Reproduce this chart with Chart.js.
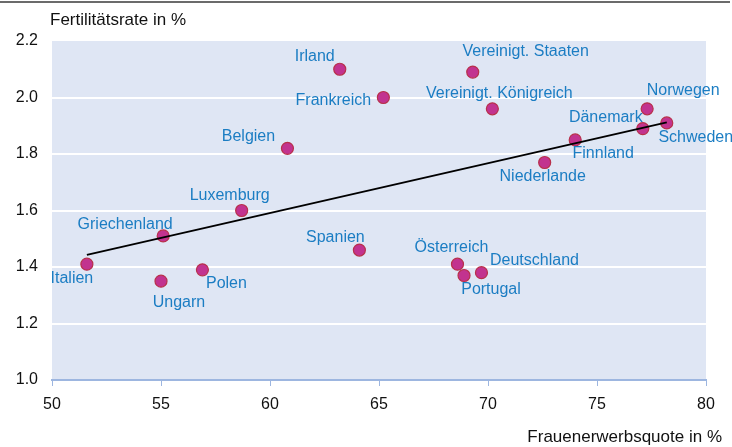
<!DOCTYPE html>
<html>
<head>
<meta charset="utf-8">
<script src="https://cdn.jsdelivr.net/npm/chart.js@4/dist/chart.umd.min.js"></script>
<style>
  html, body { margin: 0; padding: 0; background: #ffffff; }
  #wrap { position: relative; width: 732px; height: 447px; }
</style>
</head>
<body>
<div id="wrap"><canvas id="c" width="732" height="447"></canvas></div>
<script>
// ---- data ----
const countries = ["Irland","Vereinigt. Staaten","Frankreich","Vereinigt. Königreich","Norwegen","Schweden","Dänemark","Finnland","Niederlande","Belgien","Luxemburg","Griechenland","Italien","Ungarn","Polen","Spanien","Österreich","Deutschland","Portugal"];
const erwerbsquote = [63.2, 69.3, 65.2, 70.2, 77.3, 78.2, 77.1, 74.0, 72.6, 60.8, 58.7, 55.1, 51.6, 55.0, 56.9, 64.1, 68.6, 69.7, 68.9];
const fertilitaet  = [2.10, 2.09, 2.00, 1.96, 1.96, 1.91, 1.89, 1.85, 1.77, 1.82, 1.60, 1.51, 1.41, 1.35, 1.39, 1.46, 1.41, 1.38, 1.37];
const trendX = [51.6, 78.2];
const trendY = [1.443, 1.912];
const xTicks = [50, 55, 60, 65, 70, 75, 80];
const yTicks = [1.0, 1.2, 1.4, 1.6, 1.8, 2.0, 2.2];

// label placement (pixel offsets of label centre from point, layout only)
const labelOffsets = {
  "Irland": [-25, -13], "Vereinigt. Staaten": [53, -20], "Frankreich": [-50, 3],
  "Vereinigt. Königreich": [7, -15], "Norwegen": [36, -18], "Schweden": [29, 15],
  "Dänemark": [-37, -11], "Finnland": [28, 14], "Niederlande": [-2, 14],
  "Belgien": [-39, -12], "Luxemburg": [-12, -15], "Griechenland": [-38, -11],
  "Italien": [-15, 14], "Ungarn": [18, 21], "Polen": [24, 14], "Spanien": [-24, -12],
  "Österreich": [-6, -17], "Deutschland": [53, -12], "Portugal": [27, 14]
};

const FONT = "'Liberation Sans', Arial, sans-serif";

const points = erwerbsquote.map((x, i) => ({x: x, y: fertilitaet[i]}));
const trend = trendX.map((x, i) => ({x: x, y: trendY[i]}));

const decor = {
  id: 'decor',
  beforeDraw(chart) {
    const {ctx, chartArea: a} = chart;
    ctx.save();
    ctx.fillStyle = '#dfe6f4';
    ctx.fillRect(a.left, a.top, a.right - a.left, a.bottom - a.top);
    ctx.restore();
  },
  afterDraw(chart) {
    const {ctx} = chart;
    ctx.save();
    ctx.strokeStyle = '#6b6b6b';
    ctx.lineWidth = 2;
    ctx.beginPath(); ctx.moveTo(0, 2); ctx.lineTo(730, 2); ctx.stroke();
    ctx.fillStyle = '#111';
    ctx.font = '17px ' + FONT;
    ctx.textBaseline = 'middle';
    ctx.textAlign = 'left';
    ctx.fillText('Fertilitätsrate in %', 50, 20);
    ctx.textAlign = 'right';
    ctx.fillText('Frauenerwerbsquote in %', 722, 437);
    ctx.restore();
  },
  afterDatasetsDraw(chart) {
    const {ctx} = chart;
    const meta = chart.getDatasetMeta(1);
    ctx.save();
    ctx.fillStyle = '#1b7dc3';
    ctx.font = '16px ' + FONT;
    ctx.textAlign = 'center';
    ctx.textBaseline = 'middle';
    meta.data.forEach((el, i) => {
      const name = countries[i];
      const off = labelOffsets[name] || [0, -14];
      ctx.fillText(name, el.x + off[0], el.y + off[1]);
    });
    ctx.restore();
  }
};

new Chart(document.getElementById('c'), {
  type: 'scatter',
  data: {
    datasets: [
      { data: trend, showLine: true, borderColor: '#000', borderWidth: 2, pointRadius: 0, fill: false, order: 0 },
      { data: points, backgroundColor: '#c2338f', borderColor: '#b8304a', borderWidth: 1.2, pointRadius: 6, pointHoverRadius: 6, order: 1 }
    ]
  },
  options: {
    responsive: false,
    animation: false,
    events: [],
    layout: { padding: { top: 41, left: 0, right: 26, bottom: 0 } },
    plugins: { legend: { display: false }, tooltip: { enabled: false }, title: { display: false } },
    scales: {
      x: {
        type: 'linear', min: 50, max: 80,
        afterBuildTicks(s) { s.ticks = xTicks.map(v => ({value: v})); },
        afterFit(s) { s.height = 67; },
        grid: { drawOnChartArea: false, drawTicks: true, tickLength: 6, color: '#9db6e0', lineWidth: 1 },
        border: { display: true, color: '#9db6e0', width: 2 },
        ticks: { color: '#111', font: { size: 16, family: FONT }, padding: 9, maxRotation: 0, autoSkip: false }
      },
      y: {
        type: 'linear', min: 1.0, max: 2.2,
        afterBuildTicks(s) { s.ticks = yTicks.map(v => ({value: v})); },
        afterFit(s) { s.width = 52; },
        grid: {
          drawTicks: false, lineWidth: 2,
          color: (c) => (c.tick && (Math.abs(c.tick.value - 1.0) < 1e-6 || Math.abs(c.tick.value - 2.2) < 1e-6)) ? 'rgba(0,0,0,0)' : '#ffffff'
        },
        border: { display: false },
        ticks: { color: '#111', font: { size: 16, family: FONT }, padding: 14, callback: (v) => v.toFixed(1) }
      }
    }
  },
  plugins: [decor]
});
</script>
</body>
</html>
